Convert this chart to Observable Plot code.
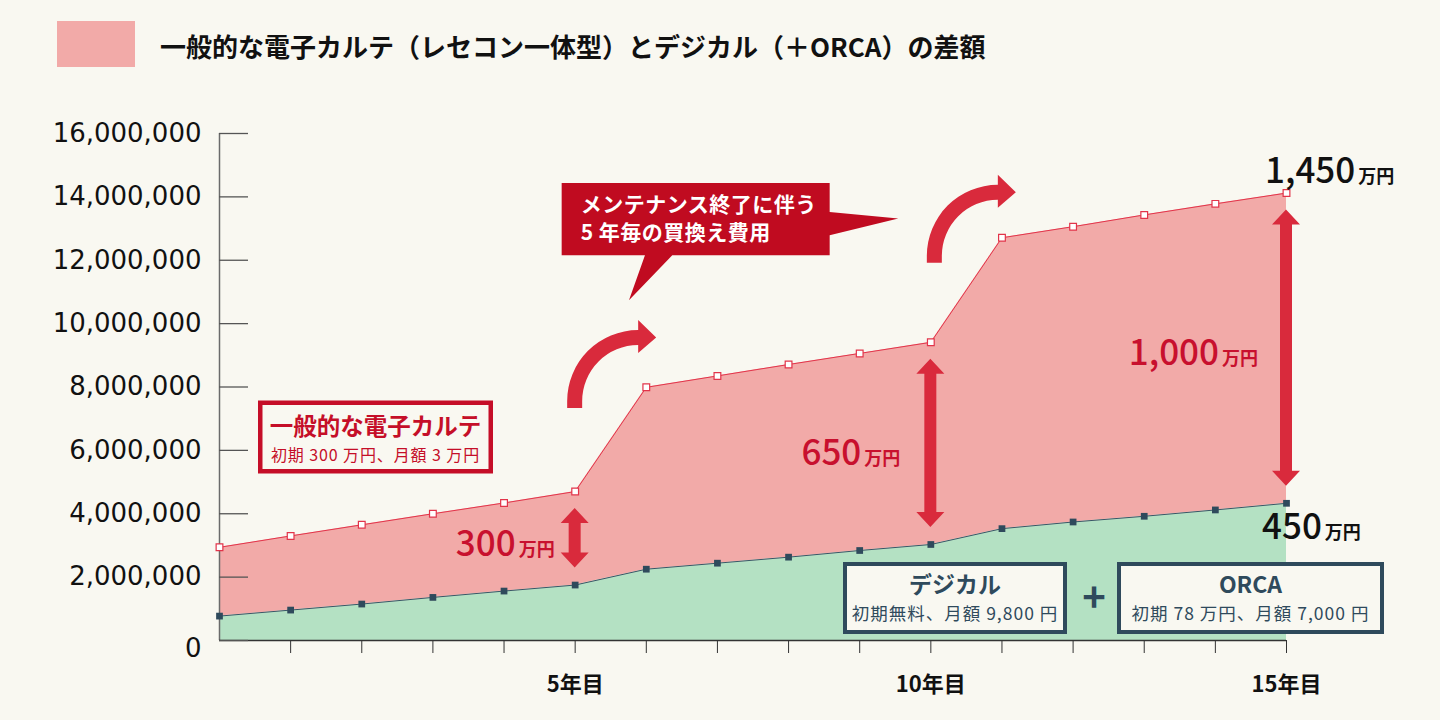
<!DOCTYPE html>
<html><head><meta charset="utf-8">
<script src="https://cdn.jsdelivr.net/npm/d3@7"></script>
<script src="https://cdn.jsdelivr.net/npm/@observablehq/plot@0.6"></script>
<style>
html,body{margin:0;padding:0;background:#f9f8f1;width:1440px;height:720px;overflow:hidden;font-family:"Noto Sans CJK JP","Noto Sans",sans-serif;}
#header{position:relative;height:90px;}
#swatch{position:absolute;left:57px;top:21px;width:78px;height:46px;background:#f2aaa8;}
#title{position:absolute;left:160px;top:45px;transform:translateY(-50%);font-size:26px;font-weight:700;color:#111;white-space:nowrap;letter-spacing:0px;}
#chart svg{display:block;overflow:visible;}
</style></head><body>
<div id="header"><div id="swatch"></div><div id="title"></div></div>
<div id="chart"></div>
<script>
const FONT = '"Noto Sans CJK JP","Noto Sans",sans-serif';
const NUMFONT = '"DejaVu Sans","Noto Sans",sans-serif';
const titleText = "一般的な電子カルテ（レセコン一体型）とデジカル（＋ORCA）の差額";

// data
const years   = [0, 1, 2, 3, 4, 5, 6, 7, 8, 9, 10, 11, 12, 13, 14, 15];
const general = [2940000, 3300000, 3650000, 4000000, 4340000, 4700000, 7990000, 8350000, 8710000, 9060000, 9410000, 12710000, 13060000, 13430000, 13780000, 14120000];
const digikar = [770000, 960000, 1150000, 1360000, 1560000, 1750000, 2250000, 2440000, 2630000, 2840000, 3030000, 3530000, 3740000, 3920000, 4120000, 4330000];
const yTicks = [0, 2000000, 4000000, 6000000, 8000000, 10000000, 12000000, 14000000, 16000000];
const xTickYears = [1, 2, 3, 4, 5, 6, 7, 8, 9, 10, 11, 12, 13, 14, 15];
const xLabelYears = [5, 10, 15];
const xLabels = ["5年目", "10年目", "15年目"];
const gapYears = [5, 10, 15];
const gapNums = ["300", "650", "1,000"];
const totalNums = ["1,450", "450"];
const unit = "万円";
const bubbleLines = ["メンテナンス終了に伴う", "5 年毎の買換え費用"];
const boxGeneral = ["一般的な電子カルテ", "初期 300 万円、月額 3 万円"];
const boxDigi = ["デジカル", "初期無料、月額 9,800 円"];
const boxOrca = ["ORCA", "初期 78 万円、月額 7,000 円"];

document.getElementById("title").textContent = titleText;

const data = years.map((yr, i) => ({year: yr, general: general[i], digikar: digikar[i]}));

const RED_LINE = "#e2344a", SLATE = "#2f4a5c", ARROW = "#d92a3c", TXT_RED = "#c8102e", BOX_RED = "#c50e28";

const chart = Plot.plot({
  width: 1440, height: 630,
  marginLeft: 219, marginRight: 154, marginTop: 43, marginBottom: 80,
  style: {background: "transparent", fontFamily: FONT, overflow: "visible"},
  x: {domain: [0, 15], label: null},
  y: {domain: [0, 16000000], label: null},
  marks: [
    Plot.areaY(data, {x: "year", y1: 0, y2: "digikar", fill: "#b4e1c3"}),
    Plot.areaY(data, {x: "year", y1: "digikar", y2: "general", fill: "#f2aaa8"}),
    Plot.line(data, {x: "year", y: "general", stroke: RED_LINE, strokeWidth: 1}),
    Plot.line(data, {x: "year", y: "digikar", stroke: "#3b5566", strokeWidth: 1}),
    Plot.ruleX([0], {y1: 0, y2: 16000000, stroke: "#6b6b6b", strokeWidth: 1.5}),
    Plot.ruleY([0], {x1: 0, x2: 15, stroke: "#333", strokeWidth: 1.5}),
    Plot.axisY(yTicks, {tickSize: -29, tickFormat: () => "", stroke: "#555", strokeWidth: 1.3}),
    Plot.axisY(yTicks.filter(v => v > 0), {tickSize: 0, tickPadding: 18, tickFormat: d3.format(","), fontSize: 26, fontFamily: NUMFONT, fill: "#111", stroke: "#111", strokeWidth: 0.3}),
    Plot.axisY([0], {tickSize: 0, tickPadding: 18, dy: 8, tickFormat: d3.format(","), fontSize: 26, fontFamily: NUMFONT, fill: "#111", stroke: "#111", strokeWidth: 0.3}),
    Plot.axisX(xTickYears, {tickSize: 13, tickFormat: () => "", stroke: "#333"}),
    Plot.axisX(xLabelYears, {tickSize: 0, tickPadding: 36, tickFormat: d => xLabels[xLabelYears.indexOf(d)], fontSize: 22, fontWeight: 700, fill: "#111"}),
    Plot.dot(data, {x: "year", y: "general", symbol: "square", r: 3.8, fill: "white", stroke: RED_LINE, strokeWidth: 1.2}),
    Plot.dot(data, {x: "year", y: "digikar", symbol: "square", r: 3.8, fill: SLATE})
  ]
});
document.getElementById("chart").appendChild(chart);

// ---- annotations, positioned through the plot's scales ----
const sx = v => chart.scale("x").apply(v);
const sy = v => chart.scale("y").apply(v);
const svg = d3.select(chart);
const g = svg.append("g").attr("font-family", FONT);

// double arrows showing the gap
function doubleArrow(cx, y0, y1) {
  const hl = 15, hw = 14, sw = 6;
  const p = [[cx, y0], [cx + hw, y0 + hl], [cx + sw, y0 + hl], [cx + sw, y1 - hl], [cx + hw, y1 - hl], [cx, y1],
             [cx - hw, y1 - hl], [cx - sw, y1 - hl], [cx - sw, y0 + hl], [cx - hw, y0 + hl]];
  g.append("path").attr("d", "M" + p.map(d => d.join(",")).join("L") + "Z").attr("fill", ARROW);
}
gapYears.forEach(yr => {
  const i = years.indexOf(yr);
  doubleArrow(sx(yr), sy(general[i]) + 17, sy(digikar[i]) - 17);
});

// curved arrows
function curvedArrow(stemX, bottom) {
  const R = 71, r = 56;
  const left = stemX - 7.5;
  const cx = left + R, cy = bottom - 7;
  const d = `M${cx - R},${bottom} L${cx - R},${cy} A${R},${R} 0 0 1 ${cx},${cy - R}
    L${cx},${cy - R - 10} L${cx + 18},${cy - (R + r) / 2} L${cx},${cy - r + 8}
    L${cx},${cy - r} A${r},${r} 0 0 0 ${cx - r},${cy} L${cx - r},${bottom} Z`;
  g.append("path").attr("d", d).attr("fill", ARROW);
}
curvedArrow(sx(5), sy(general[5]) - 83);
curvedArrow(sx(10) + 4, sy(general[10]) - 79);

// speech bubble
{
  const ox = sx(5) - 13, oy = sy(16000000) + 50;
  const pts = [[0, 0], [268, 0], [268, 29], [336.6, 35.6], [268, 52.3], [268, 72.3], [110.6, 72.3], [67.3, 117.3], [83.3, 72.3], [0, 72.3]];
  g.append("path").attr("d", "M" + pts.map(p => [ox + p[0], oy + p[1]].join(",")).join("L") + "Z").attr("fill", "#c00b20");
  bubbleLines.forEach((t, k) => {
    g.append("text").attr("x", ox + 19).attr("y", oy + 21.5 + k * 28).attr("dy", "0.36em")
      .attr("text-anchor", "start").attr("letter-spacing", 0.5)
      .attr("fill", "white").attr("font-size", 21).attr("font-weight", 700).text(t);
  });
}

// gap labels (red) and totals (black)
function valueLabel(x, cy, num, anchor, color) {
  const t = g.append("text").attr("x", x).attr("y", cy + 12).attr("text-anchor", anchor).attr("fill", color);
  t.append("tspan").attr("font-size", 35).attr("font-weight", 500).text(num);
  t.append("tspan").attr("font-size", 18).attr("font-weight", 700).attr("dx", 3).text(unit);
}
{
  const off = [[-20, 6], [-30, 10], [-28, 5.5]];
  gapYears.forEach((yr, k) => {
    const i = years.indexOf(yr);
    const mid = (sy(general[i]) + sy(digikar[i])) / 2;
    valueLabel(sx(yr) + off[k][0], mid + off[k][1], gapNums[k], "end", TXT_RED);
  });
  const last = years.length - 1;
  valueLabel(sx(15) - 21, sy(general[last]) - 22, totalNums[0], "start", "#111");
  valueLabel(sx(15) - 24, sy(digikar[last]) + 24, totalNums[1], "start", "#111");
}

// boxes
function box(x0, y0, w, h, lines, color, sw, titleSize, subSize, subSpacing, titleDy, subDy) {
  g.append("rect").attr("x", x0 + sw / 2).attr("y", y0 + sw / 2).attr("width", w - sw).attr("height", h - sw)
    .attr("fill", "#f9f8f1").attr("stroke", color).attr("stroke-width", sw);
  g.append("text").attr("x", x0 + w / 2).attr("y", y0 + titleDy).attr("dy", "0.36em").attr("text-anchor", "middle")
    .attr("fill", color).attr("font-size", titleSize).attr("font-weight", 700).text(lines[0]);
  g.append("text").attr("x", x0 + w / 2).attr("y", y0 + subDy).attr("dy", "0.36em").attr("text-anchor", "middle")
    .attr("letter-spacing", subSpacing)
    .attr("fill", color).attr("font-size", subSize).attr("font-weight", 400).text(lines[1]);
}
{
  const x0 = sx(0);
  box(x0 + 39, sy(8000000) + 14, 235, 73, boxGeneral, BOX_RED, 4.5, 23.5, 16, 0.9, 26, 55);
  const b = sy(0);
  box(x0 + 624, b - 78, 224, 72, boxDigi, SLATE, 4, 23, 17.5, 1, 23, 52);
  box(x0 + 898, b - 78, 267, 72, boxOrca, SLATE, 4, 23, 17.5, 1, 23, 52);
  g.append("text").attr("x", x0 + 875).attr("y", b - 42).attr("dy", "0.36em").attr("text-anchor", "middle")
    .attr("fill", SLATE).attr("font-size", 40).attr("font-weight", 700).text("+");
}
</script>
</body></html>
